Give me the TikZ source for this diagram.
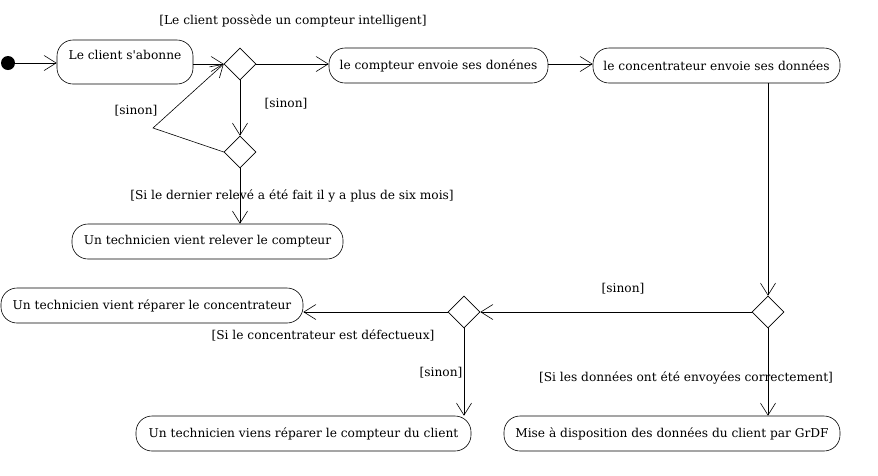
\documentclass[tikz,border=0pt]{standalone}
\usepackage{fontspec}
\setmainfont{DejaVu Serif}
\usetikzlibrary{shapes.geometric,arrows.meta}

\tikzset{
  activite/.style={draw, rounded corners=16pt, minimum height=35pt, inner sep=0pt},
  decision/.style={draw, diamond, minimum width=32pt, minimum height=32pt, inner sep=0pt},
  fleche/.style={-{Straight Barb[length=12pt,width=15pt]}},
  garde/.style={inner sep=0pt}
}

\begin{document}
\begin{tikzpicture}[x=1pt,y=-1pt,line width=0.6pt,font=\fontsize{12.2}{14}\selectfont]
\useasboundingbox (0,0) rectangle (878,475);

\node[circle, fill=black, minimum size=14pt, inner sep=0pt] (debut) at (8,63) {};
\node[activite, minimum width=136pt, minimum height=44pt, text height=9pt, text depth=15pt] (abonne) at (125,62) {Le client s\textquotesingle abonne};
\node[decision] (d1) at (240,64) {};
\node[activite, minimum width=219pt] (compteur) at (438.5,65.5) {le compteur envoie ses donénes};
\node[activite, minimum width=247pt] (concentr) at (716.5,65.5) {le concentrateur envoie ses données};
\node[decision] (d2) at (240,152) {};
\coordinate (coude) at (153,128);
\node[activite, minimum width=271pt] (relever) at (207.5,241.5) {Un technicien vient relever le compteur};
\node[decision] (d3) at (768,312) {};
\node[decision] (d4) at (464,312) {};
\node[activite, minimum width=302pt] (repconc) at (152,305.5) {Un technicien vient réparer le concentrateur};
\node[activite, minimum width=335pt] (repcompt) at (303.5,433.5) {Un technicien viens réparer le compteur du client};
\node[activite, minimum width=336pt] (grdf) at (672,433.5) {Mise à disposition des données du client par GrDF};

\node[garde] (g1) at (293,21) {[Le client possède un compteur intelligent]};
\node[garde] (g2) at (286,104) {[sinon]};
\node[garde] (g3) at (136,111) {[sinon]};
\node[garde] (g4) at (292,196) {[Si le dernier relevé a été fait il y a plus de six mois]};
\node[garde] (g5) at (623,289) {[sinon]};
\node[garde] (g6) at (323,335) {[Si le concentrateur est défectueux]};
\node[garde] (g7) at (441,373) {[sinon]};
\node[garde] (g8) at (686,378) {[Si les données ont été envoyées correctement]};

\draw[fleche] (debut) -- (abonne.west |- debut);
\draw[fleche] (abonne.east |- d1) -- (d1.west);
\draw[fleche] (d1.east) -- (compteur.west |- d1);
\draw[fleche] (compteur.east |- d1) -- (concentr.west |- d1);
\draw[fleche] (d1.south) -- (d2.north);
\draw[fleche] (d2.west) -- (coude) -- (d1.west);
\draw[fleche] (d2.south) -- (relever.north -| d2);
\draw[fleche] (concentr.south -| d3) -- (d3.north);
\draw[fleche] (d3.west) -- (d4.east);
\draw[fleche] (d4.west) -- (repconc.east |- d4);
\draw[fleche] (d4.south) -- (repcompt.north -| d4);
\draw[fleche] (d3.south) -- (grdf.north -| d3);
\end{tikzpicture}
\end{document}
